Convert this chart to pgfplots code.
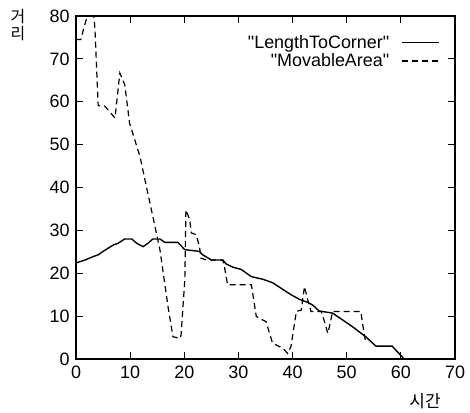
\documentclass[border=0pt]{standalone}
\usepackage{pgfplots}
\pgfplotsset{compat=1.18}
\usepackage{fontspec}
\setmainfont{Liberation Sans}
\newfontfamily\kr{Noto Sans CJK KR}

\begin{document}
\begin{tikzpicture}
\path[use as bounding box] (-76bp,-54bp) rectangle (394bp,359bp);
\begin{axis}[name=ax, scale only axis, width=379bp, height=343bp,
  xmin=0, xmax=70, ymin=0, ymax=80,
  xtick={0,10,...,70}, ytick={0,10,...,80},
  tick align=inside, major tick length=7bp,
  axis line style={line width=1.3bp}, tick style={line width=1bp, black},
  /pgf/number format/assume math mode=true,
  ticklabel style={font=\fontsize{18}{20}\selectfont},
  xticklabel style={yshift=-3bp}, yticklabel style={xshift=-3bp},
  xlabel={\kr\fontsize{17}{18}\selectfont 시간}, xlabel style={at={(rel axis cs:0.921,0)}, anchor=north, yshift=-31bp},
  legend style={at={(rel axis cs:0.96,0.95)}, anchor=north east, draw=none, fill=none,
    font=\fontsize{18}{20}\selectfont, row sep=0bp, column sep=10bp, inner sep=0pt},
  legend plot pos=right, legend cell align=right,
  legend image code/.code={\draw[#1] (0bp,0bp) -- (37bp,0bp);},
  clip=true]
\addplot[black, line width=1.4bp] coordinates {(0,22.4)(1.7,23.1)(3.2,23.9)(4.1,24.3)(5.0,25.1)(6.9,26.6)(7.8,27.0)(9.0,28.0)(10.3,28.0)(11.2,27.0)(12.4,26.2)(13.3,27.0)(14.2,28.0)(15.5,28.0)(16.4,27.2)(18.8,27.2)(20.1,25.5)(22.8,25.1)(23.4,24.3)(25,23.1)(27.1,23.1)(27.7,22.2)(29,21.4)(30.5,20.9)(32.4,19.2)(34.5,18.6)(36.3,17.8)(39.7,15)(41.3,13.9)(42.8,13.2)(43.7,12.6)(44.9,11.2)(47.4,10.7)(51.1,7.5)(53.5,5.2)(55.4,3.0)(58.4,3.0)(60.6,0)};
\addlegendentry{\textquotedbl LengthToCorner\textquotedbl}
\addplot[black, line width=1.2bp, dash pattern=on 6bp off 4bp] coordinates {(0,74.5)(0.9,74.5)(1.4,77)(2.0,79.6)(2.6,84)(3.3,80)(3.5,77)(3.9,65)(4.1,59.1)(5.3,59)(7.2,56.2)(8.1,66.7)(9.0,64)(9.9,55)(11.8,47.3)(12.7,42)(14.2,33.2)(15.5,25.5)(17.0,12.2)(17.9,5.2)(19.2,4.8)(19.4,5.5)(20.1,18.5)(20.3,34.8)(21,32.5)(21.3,29.4)(22.2,29)(22.8,26.2)(23.1,23.5)(24.1,23.1)(27.1,23.1)(27.4,21.6)(28,17.3)(32.4,17.3)(33.3,9.9)(35.1,8.7)(36.3,3.7)(38.2,2.5)(39.1,1.3)(39.7,2.9)(40.7,11.1)(41.6,11.4)(42.2,16.9)(42.8,13.8)(43.4,11.1)(45.3,11.1)(45.9,8.7)(46.5,6.0)(46.8,7.5)(47.4,11.1)(52.6,11.1)(53.2,6.0)(53.5,4)};
\addlegendentry{\textquotedbl MovableArea\textquotedbl}
\end{axis}
\node[font=\kr\fontsize{16}{17}\selectfont, align=center, anchor=north, inner sep=0pt] at ([xshift=-58bp, yshift=7bp]ax.north west) {거\\리};
\end{tikzpicture}
\end{document}
